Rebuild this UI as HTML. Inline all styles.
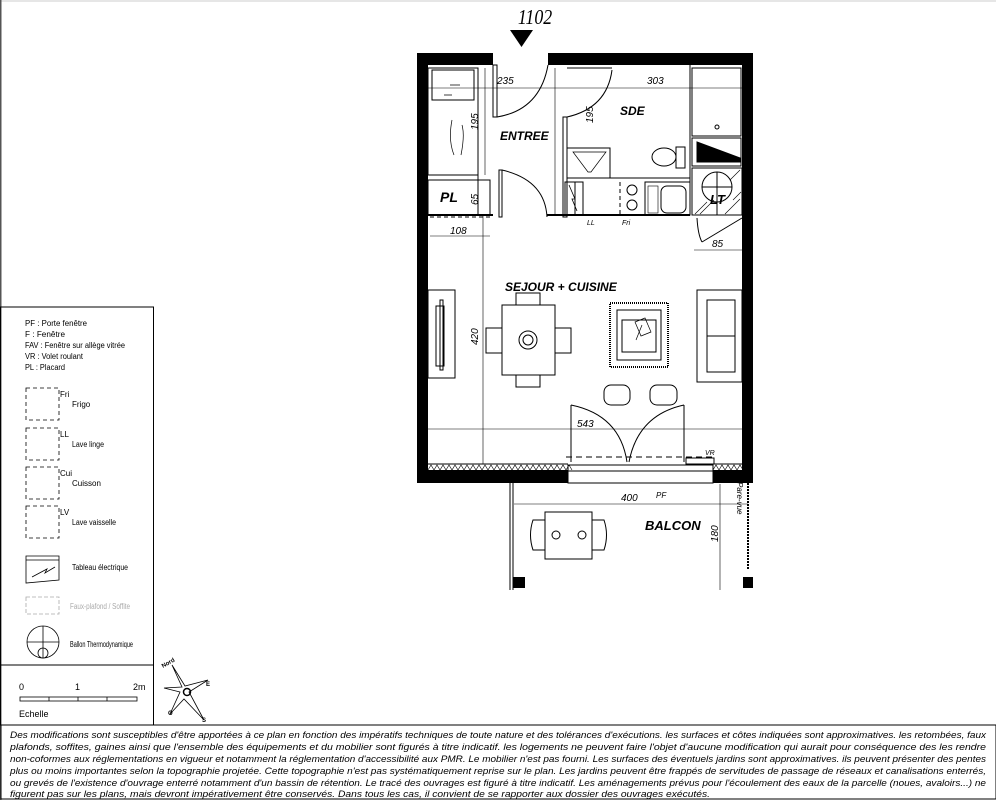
<!DOCTYPE html>
<html><head><meta charset="utf-8"><style>
html,body{margin:0;padding:0;background:#fff;width:996px;height:800px;overflow:hidden}
svg{display:block}
.t{font-family:"Liberation Sans",sans-serif}
</style></head><body>
<svg width="996" height="800" viewBox="0 0 996 800" xmlns="http://www.w3.org/2000/svg">
<rect x="0" y="0" width="996" height="2" fill="#e6e6e6"/>
<rect x="0" y="0" width="1.5" height="800" fill="#555"/>
<text x="535" y="24" font-family="Liberation Serif" font-style="italic" font-size="21" text-anchor="middle" transform="translate(535 0) scale(0.85 1) translate(-535 0)">1102</text>
<polygon points="510,30 533,30 521.5,47" fill="#000"/>
<g fill="#000">
<rect x="417" y="53" width="76" height="12"/>
<rect x="548" y="53" width="205" height="12"/>
<rect x="417" y="53" width="11" height="430"/>
<rect x="742" y="53" width="11" height="430"/>
<rect x="417" y="470" width="151" height="13"/>
<rect x="713" y="470" width="40" height="13"/>
</g>
<g stroke="#000" fill="none" stroke-width="1">
<line x1="428" y1="464" x2="568" y2="464"/><line x1="713" y1="464" x2="742" y2="464"/>
<path d="M428 470 l3 -5 l3 5 l3 -5 l3 5 l3 -5 l3 5 l3 -5 l3 5 l3 -5 l3 5 l3 -5 l3 5 l3 -5 l3 5 l3 -5 l3 5 l3 -5 l3 5 l3 -5 l3 5 l3 -5 l3 5 l3 -5 l3 5 l3 -5 l3 5 l3 -5 l3 5 l3 -5 l3 5 l3 -5 l3 5 l3 -5 l3 5 l3 -5 l3 5 l3 -5 l3 5 l3 -5 l3 5 l3 -5 l3 5 l3 -5 l3 5 l3 -5 l3 5 l3 -5 l3 5" stroke-width="0.6"/>
<path d="M713 470 l3 -5 l3 5 l3 -5 l3 5 l3 -5 l3 5 l3 -5 l3 5 l3 -5 l3 5" stroke-width="0.6"/>
<rect x="568" y="465" width="145" height="18"/>
<line x1="568" y1="471" x2="713" y2="471"/>
<line x1="566" y1="457" x2="716" y2="457" stroke-dasharray="6 4"/>
<line x1="571" y1="405" x2="571" y2="462"/><line x1="684" y1="405" x2="684" y2="462"/>
<path d="M571 405 Q620 415 627 462"/><path d="M684 405 Q638 415 629 462"/>
<rect x="686" y="458" width="28" height="6"/>
<rect x="493" y="65" width="4" height="52"/>
<rect x="499" y="170" width="3" height="47"/>
<path d="M497 117 Q540 110 548 65"/>
<path d="M502 170 Q545 180 547 217"/>
<rect x="428" y="68" width="50" height="107"/>
<rect x="432" y="70" width="42" height="30"/>
<path d="M450 85 l10 0 M452 95 l-8 0 M452 120 q-4 20 2 35 M462 125 q3 10 -1 30" stroke-width="0.7"/>
<rect x="428" y="180" width="62" height="35"/>
<line x1="428" y1="215" x2="493" y2="215" stroke-width="2"/>
<line x1="430" y1="217" x2="490" y2="217" stroke-dasharray="4 3"/>
<line x1="478" y1="175" x2="478" y2="215"/>
<rect x="563" y="117" width="4" height="100"/>
<line x1="567" y1="68" x2="612" y2="68"/>
<path d="M567 117 Q607 108 612 70"/>
<line x1="547" y1="215" x2="690" y2="215" stroke-width="2"/>
<line x1="567" y1="178" x2="690" y2="178"/>
<rect x="567" y="148" width="43" height="30"/>
<path d="M573 152 l33 0 l-15 20 l-3 0 z" stroke-width="0.7"/>
<ellipse cx="664" cy="157" rx="12" ry="9"/><rect x="676" y="147" width="9" height="21"/>
<line x1="690" y1="65" x2="690" y2="215"/>
<rect x="692" y="68" width="49" height="68"/>
<circle cx="717" cy="127" r="2"/>
<rect x="692" y="138" width="49" height="28"/>
<path d="M697 142 L697 162 L740 162 L740 158 Z" fill="#000"/>
<rect x="692" y="168" width="50" height="47"/>
<path d="M695 214 l12 -12 M700 214 l14 -14 M725 214 l15 -15 M730 180 l10 -10 M733 200 l8 -8" stroke-width="0.6"/>
<circle cx="717" cy="187" r="15"/><line x1="702" y1="187" x2="732" y2="187"/><line x1="717" y1="172" x2="717" y2="215"/>
<rect x="565" y="182" width="10" height="33"/>
<path d="M569 185 l6 14 l-3 0 l5 12" stroke-width="0.8"/>
<rect x="575" y="182" width="8" height="33"/>
<line x1="620" y1="182" x2="620" y2="215" stroke-dasharray="4 3"/>
<circle cx="632" cy="190" r="5"/><circle cx="632" cy="205" r="5"/>
<rect x="645" y="182" width="45" height="33"/>
<rect x="648" y="186" width="10" height="27" stroke-width="0.6"/>
<rect x="661" y="186" width="25" height="27" rx="6"/>
<line x1="742" y1="218" x2="702" y2="242"/><path d="M697 218 Q698 235 702 242"/>
<g stroke-width="0.6">
<line x1="428" y1="88" x2="742" y2="88"/>
<line x1="485" y1="68" x2="485" y2="175"/>
<line x1="555" y1="68" x2="555" y2="215"/>
<line x1="430" y1="236" x2="490" y2="236"/>
<line x1="483" y1="215" x2="483" y2="464"/>
<line x1="694" y1="250" x2="742" y2="250"/>
<line x1="428" y1="429" x2="742" y2="429"/>
<line x1="514" y1="504" x2="748" y2="504"/>
<line x1="720" y1="484" x2="720" y2="590"/>
</g>
<rect x="428" y="290" width="27" height="88"/>
<rect x="436" y="306" width="8" height="60"/><rect x="440" y="300" width="3" height="70"/>
<rect x="502" y="305" width="53" height="70"/>
<circle cx="528" cy="340" r="9"/><circle cx="528" cy="340" r="5"/>
<rect x="516" y="293" width="24" height="12"/><rect x="516" y="375" width="24" height="12"/>
<rect x="486" y="328" width="16" height="25"/><rect x="555" y="328" width="16" height="25"/>
<rect x="610" y="303" width="58" height="64" stroke-dasharray="1 1" stroke-width="2"/>
<rect x="617" y="310" width="44" height="50"/>
<rect x="622" y="320" width="34" height="32"/>
<path d="M635 322 l10 -4 l6 14 l-10 4 z M642 325 l-6 15" stroke-width="0.7"/>
<rect x="697" y="290" width="45" height="92"/>
<rect x="707" y="300" width="28" height="36"/><rect x="707" y="336" width="28" height="36"/>
<rect x="604" y="385" width="26" height="20" rx="7"/><rect x="650" y="385" width="27" height="20" rx="7"/>
<line x1="510" y1="483" x2="510" y2="590"/><line x1="513" y1="483" x2="513" y2="590"/>
<line x1="748" y1="483" x2="748" y2="570" stroke-dasharray="2 1" stroke-width="2"/>
<rect x="545" y="512" width="47" height="47"/>
<path d="M545 520 h-12 q-5 15 0 30 h12 M592 520 h12 q5 15 0 30 h-12"/>
<circle cx="556" cy="535" r="4"/><circle cx="582" cy="535" r="4"/>
</g>
<rect x="513" y="577" width="12" height="11" fill="#000"/>
<rect x="743" y="577" width="10" height="11" fill="#000"/>
<g class="t" font-weight="bold" font-size="12" font-style="italic">
<text x="500" y="140">ENTREE</text>
<text x="620" y="115">SDE</text>
<text x="440" y="202" font-size="14">PL</text>
<text x="505" y="291">SEJOUR + CUISINE</text>
<text x="645" y="530" font-size="13">BALCON</text>
<text x="710" y="204" font-size="13">LT</text>
</g>
<g class="t" font-size="10" font-style="italic">
<text x="497" y="84">235</text>
<text x="647" y="84">303</text>
<text x="450" y="234">108</text>
<text x="712" y="247">85</text>
<text x="577" y="427">543</text>
<text x="621" y="501">400</text>
<text x="656" y="498" font-size="8">PF</text>
<text x="705" y="455" font-size="7">VR</text>
<text x="587" y="225" font-size="7">LL</text>
<text x="622" y="225" font-size="7">Fri</text>
<text transform="translate(478 130) rotate(-90)">195</text>
<text transform="translate(593 123) rotate(-90)">195</text>
<text transform="translate(478 205) rotate(-90)">65</text>
<text transform="translate(478 345) rotate(-90)">420</text>
<text transform="translate(718 542) rotate(-90)">180</text>
<text transform="translate(737 482) rotate(90)" font-size="8">Pare-vue</text>
</g>
<rect x="0.5" y="307" width="153" height="418" fill="none" stroke="#000"/>
<line x1="0" y1="665" x2="154" y2="665" stroke="#000"/>
<g class="t" font-size="8">
<text x="25" y="326" textLength="62" lengthAdjust="spacingAndGlyphs">PF : Porte fenêtre</text>
<text x="25" y="337" textLength="40" lengthAdjust="spacingAndGlyphs">F : Fenêtre</text>
<text x="25" y="348" textLength="100" lengthAdjust="spacingAndGlyphs">FAV : Fenêtre sur allège vitrée</text>
<text x="25" y="359" textLength="58" lengthAdjust="spacingAndGlyphs">VR : Volet roulant</text>
<text x="25" y="370" textLength="40" lengthAdjust="spacingAndGlyphs">PL : Placard</text>
<text x="60" y="397">Fri</text><text x="72" y="407">Frigo</text>
<text x="60" y="437">LL</text><text x="72" y="447" textLength="32" lengthAdjust="spacingAndGlyphs">Lave linge</text>
<text x="60" y="476">Cui</text><text x="72" y="486">Cuisson</text>
<text x="60" y="515">LV</text><text x="72" y="525" textLength="44" lengthAdjust="spacingAndGlyphs">Lave vaisselle</text>
<text x="72" y="570" textLength="56" lengthAdjust="spacingAndGlyphs">Tableau électrique</text>
<text x="70" y="609" fill="#aaa" textLength="60" lengthAdjust="spacingAndGlyphs">Faux-plafond / Soffite</text>
<text x="70" y="647" textLength="63" lengthAdjust="spacingAndGlyphs">Ballon Thermodynamique</text>
<text x="19" y="690" font-size="9">0</text>
<text x="75" y="690" font-size="9">1</text>
<text x="133" y="690" font-size="9">2m</text>
<text x="19" y="717" font-size="9">Echelle</text>
</g>
<g fill="none" stroke="#000" stroke-width="0.8">
<rect x="26" y="388" width="33" height="32" stroke-dasharray="4 3"/>
<rect x="26" y="428" width="33" height="32" stroke-dasharray="4 3"/>
<rect x="26" y="467" width="33" height="32" stroke-dasharray="4 3"/>
<rect x="26" y="506" width="33" height="32" stroke-dasharray="4 3"/>
<path d="M26 556 h33 v24 l-33 3 z M26 560 h33"/><path d="M32 577 l15 -8 l-2 4 l10 -6"/>
<rect x="26" y="597" width="33" height="17" stroke="#aaa" stroke-dasharray="4 2"/>
<circle cx="43" cy="642" r="16"/><line x1="27" y1="642" x2="59" y2="642"/><line x1="43" y1="626" x2="43" y2="658"/><circle cx="43" cy="653" r="5"/>
<rect x="20" y="697" width="117" height="4"/>
<path d="M49 697 v4 M78 697 v4 M107 697 v4" />
<path d="M172 665 L185 686 L208 680 L189 692 L204 720 L184 699 L170 714 L180 692 L164 688 L182 687 Z"/>
<circle cx="187" cy="692" r="3.5" stroke-width="1.5"/>
</g>
<g class="t" font-size="6" font-weight="bold">
<text transform="translate(163 668) rotate(-30)">Nord</text>
<text x="206" y="686">E</text><text x="202" y="722">S</text><text x="168" y="715">O</text>
</g>
<rect x="1" y="725" width="995" height="74" fill="none" stroke="#000"/>
<g class="t" font-size="9" font-style="italic">
<text x="10" y="738" textLength="976" lengthAdjust="spacingAndGlyphs">Des modifications sont susceptibles d'être apportées à ce plan en fonction des impératifs techniques de toute nature et des tolérances d'exécutions. les surfaces et côtes indiquées sont approximatives. les retombées, faux</text>
<text x="10" y="750" textLength="976" lengthAdjust="spacingAndGlyphs">plafonds, soffites, gaines ainsi que l'ensemble des équipements et du mobilier sont figurés à titre indicatif. les logements ne peuvent faire l'objet d'aucune modification qui aurait pour conséquence des les rendre</text>
<text x="10" y="762" textLength="976" lengthAdjust="spacingAndGlyphs">non-coformes aux réglementations en vigueur et notamment la réglementation d'accessibilité aux PMR. Le mobilier n'est pas fourni. Les surfaces des éventuels jardins sont approximatives. ils peuvent présenter des pentes</text>
<text x="10" y="774" textLength="976" lengthAdjust="spacingAndGlyphs">plus ou moins importantes selon la topographie projetée. Cette topographie n'est pas systématiquement reprise sur le plan. Les jardins peuvent être frappés de servitudes de passage de réseaux et canalisations enterrés,</text>
<text x="10" y="786" textLength="976" lengthAdjust="spacingAndGlyphs">ou grevés de l'existence d'ouvrage enterré notamment d'un bassin de rétention. Le tracé des ouvrages est figuré à titre indicatif. Les aménagements prévus pour l'écoulement des eaux de la parcelle (noues, avaloirs...) ne</text>
<text x="10" y="797" textLength="700" lengthAdjust="spacingAndGlyphs">figurent pas sur les plans, mais devront impérativement être conservés. Dans tous les cas, il convient de se rapporter aux dossier des ouvrages exécutés.</text>
</g>
</svg>
</body></html>
